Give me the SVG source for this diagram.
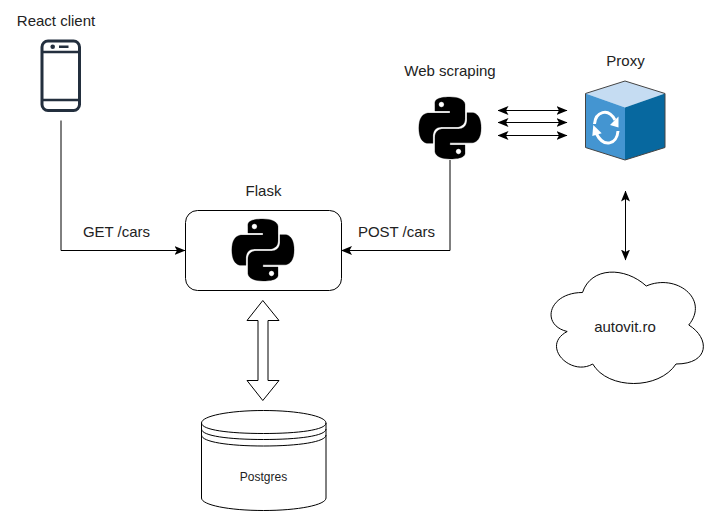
<svg xmlns="http://www.w3.org/2000/svg" xmlns:xlink="http://www.w3.org/1999/xlink" width="721" height="521" viewBox="0 0 721 521">
<style>
text{font-family:"Liberation Sans",Arial,sans-serif;font-size:15px;fill:#222;text-anchor:middle}
.line{fill:none;stroke:#000;stroke-width:1}
.shape{fill:#fff;stroke:#000;stroke-width:1}
</style>
<defs>
<marker id="end" viewBox="0 0 11 9" refX="10.500" refY="4.500" markerWidth="11" markerHeight="9" markerUnits="userSpaceOnUse" orient="auto-start-reverse"><path d="M0 0L11 4.500L0 9L2.500 4.500Z" fill="#000"/></marker>
<path id="py" fill="#000" fill-rule="evenodd" stroke="#000" stroke-width="0.120" d="M14.25.18l.9.2.73.26.59.3.45.32.34.34.25.34.16.33.1.3.04.26.02.2-.01.13V8.5l-.05.63-.13.55-.21.46-.26.38-.3.31-.33.25-.35.19-.35.14-.33.1-.3.07-.26.04-.21.02H8.77l-.69.05-.59.14-.5.22-.41.27-.33.32-.27.35-.2.36-.15.37-.1.35-.07.32-.04.27-.02.21v3.06H3.17l-.21-.03-.28-.07-.32-.12-.35-.18-.36-.26-.36-.36-.35-.46-.32-.59-.28-.73-.21-.88-.14-1.05-.05-1.23.06-1.22.16-1.04.24-.87.32-.71.36-.57.4-.44.42-.33.42-.24.4-.16.36-.1.32-.05.24-.01h.16l.06.01h8.16v-.83H6.18l-.01-2.75-.02-.37.05-.34.11-.31.17-.28.25-.26.31-.23.38-.2.44-.18.51-.15.58-.12.64-.1.71-.06.77-.04.84-.02 1.27.05zm-6.3 1.98l-.23.33-.08.41.08.41.23.34.33.22.41.09.41-.09.33-.22.23-.34.08-.41-.08-.41-.23-.33-.33-.22-.41-.09-.41.09zm13.09 3.95l.28.06.32.12.35.18.36.27.36.35.35.47.32.59.28.73.21.88.14 1.04.05 1.23-.06 1.23-.16 1.04-.24.86-.32.71-.36.57-.4.45-.42.33-.42.24-.4.16-.36.09-.32.05-.24.02-.16-.01h-8.22v.82h5.84l.01 2.76.02.36-.05.34-.11.31-.17.29-.25.25-.31.24-.38.2-.44.17-.51.15-.58.13-.64.09-.71.07-.77.04-.84.01-1.27-.04-1.07-.14-.9-.2-.73-.25-.59-.3-.45-.33-.34-.34-.25-.34-.16-.33-.1-.3-.04-.25-.02-.2.01-.13v-5.34l.05-.64.13-.54.21-.46.26-.38.3-.32.33-.24.35-.2.35-.14.33-.1.3-.06.26-.04.21-.02.13-.01h5.84l.69-.05.59-.14.5-.21.41-.28.33-.32.27-.35.2-.36.15-.36.1-.35.07-.32.04-.28.02-.21V6.07h2.09l.14.01zm-6.47 14.25l-.23.33-.08.41.08.41.23.33.33.23.41.08.41-.08.33-.23.23-.33.08-.41-.08-.41-.23-.33-.33-.23-.41-.08-.41.08z"/>
</defs>
<rect width="721" height="521" fill="#fff"/>
<g id="connectors">
<path class="line" d="M61 120.500V250.500H185" marker-end="url(#end)"/>
<path class="line" d="M450 160V250.500H341.500" marker-end="url(#end)"/>
<path class="line" d="M498 110.500H567" marker-start="url(#end)" marker-end="url(#end)"/>
<path class="line" d="M498 122.500H567" marker-start="url(#end)" marker-end="url(#end)"/>
<path class="line" d="M498 135.500H567" marker-start="url(#end)" marker-end="url(#end)"/>
<path class="line" d="M625.500 191V260" marker-start="url(#end)" marker-end="url(#end)"/>
<path class="shape" d="M262.800 300.500L279 320.500H268V380.500H279L262.800 400.500L247 380.500H258V320.500H247Z"/>
<text x="116.500" y="237">GET /cars</text>
<text x="396.500" y="237">POST /cars</text>
</g>
<g id="react-client">
<rect x="42" y="41" width="37.500" height="69.500" rx="6" fill="#fff" stroke="#232f3e" stroke-width="3"/>
<path d="M42 52H79.500M42 100H79.500" fill="none" stroke="#232f3e" stroke-width="2.500"/>
<circle cx="52.700" cy="46.700" r="2.300" fill="#232f3e"/>
<rect x="59" y="45.500" width="9.500" height="2.500" fill="#232f3e"/>
<text x="56" y="26">React client</text>
</g>
<g id="flask">
<rect class="shape" x="185.500" y="210.500" width="156" height="80" rx="12"/>
<use xlink:href="#py" href="#py" transform="translate(232 219) scale(2.58)"/>
<text x="263.500" y="196">Flask</text>
</g>
<g id="web-scraping">
<use xlink:href="#py" href="#py" transform="translate(419 97) scale(2.58)"/>
<text x="450" y="76">Web scraping</text>
</g>
<g id="proxy">
<path d="M625 81L665 93.500L625 107.500L585.500 93.500Z" fill="#c5dcf2"/>
<path d="M585.500 93.500L625 107.500V160L585.500 147.500Z" fill="#4495d1"/>
<path d="M625 107.500L665 93.500V147.500L625 160Z" fill="#07689f"/>
<path d="M625 81L665 93.500V147.500L625 160L585.500 147.500V93.500Z" fill="none" stroke="#444" stroke-width="1"/>
<g fill="none" stroke="#fff" stroke-width="3">
<path d="M594.500 124C595.500 112 608 107 615 120"/>
<path d="M618 131C617 144 604 149 596 133"/>
</g>
<path d="M610 125L618.500 116.500L618.500 127.500Z" fill="#fff"/>
<path d="M601.700 133.300L592.300 136L593.300 125Z" fill="#fff"/>
<text x="625.500" y="66">Proxy</text>
</g>
<g id="autovit">
<path class="shape" d="M582.500 292.500C548.500 292.500 540 325 567.200 331.500C540 345.800 570.600 377 592.700 364C608 390 659 390 676 364C710 364 710 338 688.750 325C710 299 676 273 646.250 286C625 266.500 591 266.500 582.500 292.500Z"/>
<text x="625" y="332">autovit.ro</text>
</g>
<g id="postgres">
<path class="shape" d="M201.500 423C201.500 416 229 410.500 263.500 410.500C298 410.500 326 416 326 423V498C326 505 298 510.500 263.500 510.500C229 510.500 201.500 505 201.500 498Z"/>
<path class="line" d="M201.500 423C201.500 430 229 433.500 263.500 433.500C298 433.500 326 430 326 423M201.500 429C201.500 436 229 439.500 263.500 439.500C298 439.500 326 436 326 429M201.500 435C201.500 442 229 446 263.500 446C298 446 326 442 326 435"/>
<text x="263.500" y="481" style="font-size:12px">Postgres</text>
</g>
</svg>
